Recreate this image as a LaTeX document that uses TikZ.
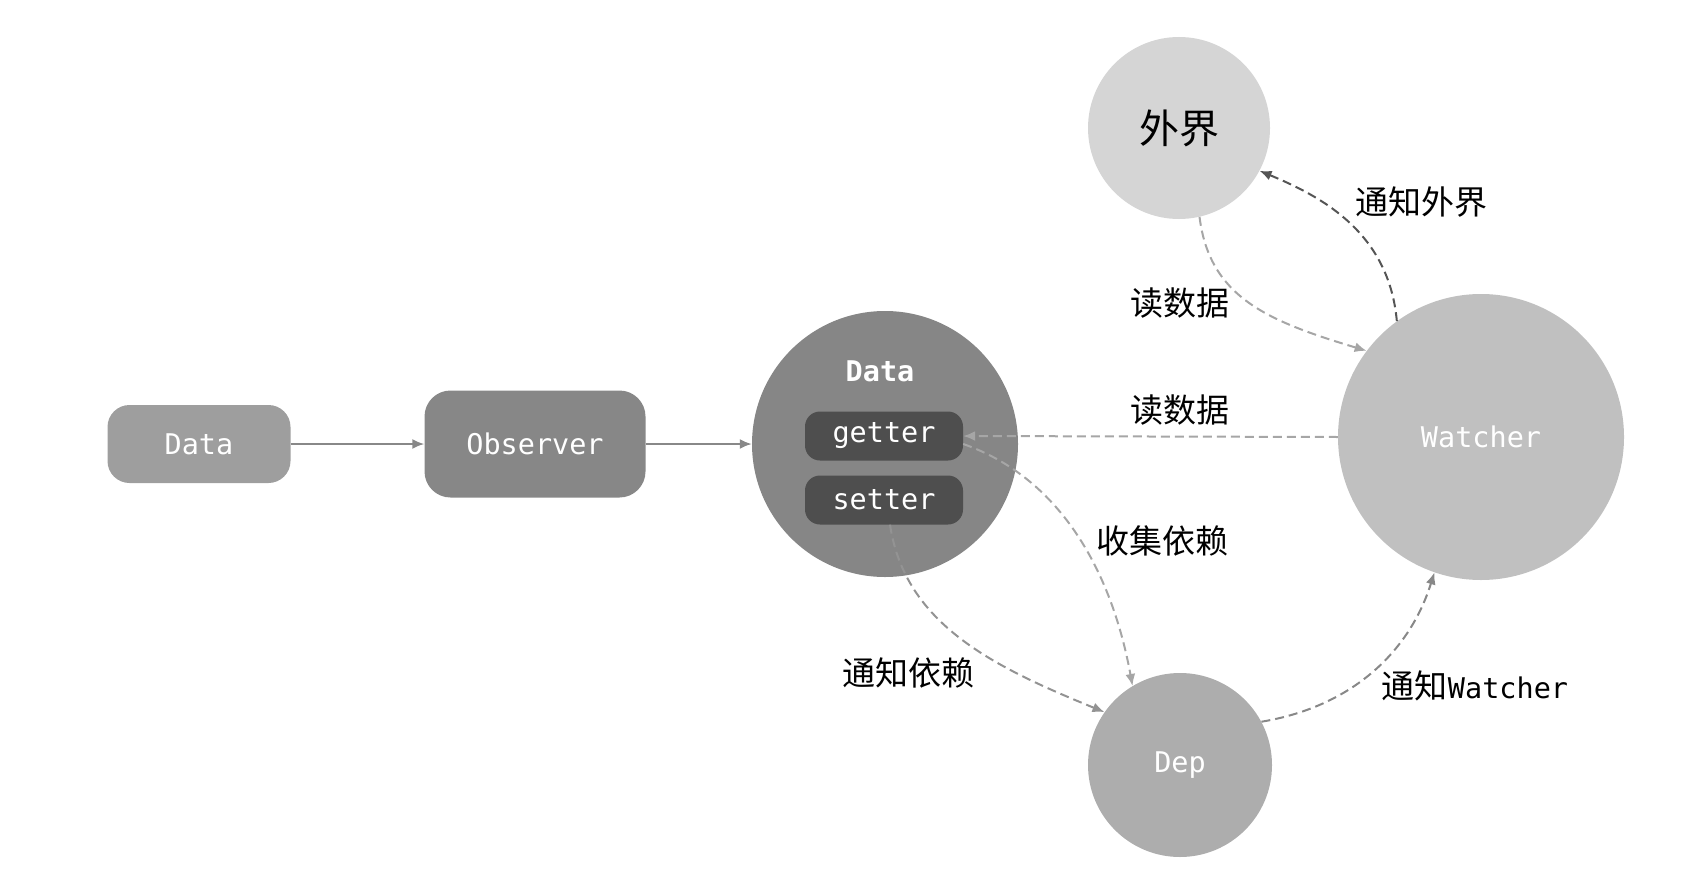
\documentclass[tikz,border=0pt]{standalone}
\usepackage{fontspec}
\setmonofont{DejaVu Sans Mono}
\newfontfamily\cjk{Noto Sans CJK SC}
\usetikzlibrary{arrows.meta}

\definecolor{datagray}{HTML}{9E9E9E}
\definecolor{obsgray}{HTML}{878787}
\definecolor{circgray}{HTML}{868686}
\definecolor{accgray}{HTML}{4E4E4E}
\definecolor{outgray}{HTML}{D5D5D5}
\definecolor{watchgray}{HTML}{C0C0C0}
\definecolor{depgray}{HTML}{ADADAD}
\definecolor{lightline}{HTML}{A6A6A6}
\definecolor{midline}{HTML}{888888}
\definecolor{setline}{HTML}{939393}
\definecolor{darkline}{HTML}{555555}

\newcommand{\monotext}{\ttfamily\fontsize{28.5}{31}\selectfont}
\newcommand{\cjktext}{\cjk\fontsize{33}{37}\selectfont}

\begin{document}
\begin{tikzpicture}[x=1pt, y=-1pt, >={Latex[length=12pt,width=10pt]}]

\tikzstyle{rbox}=[rectangle, inner sep=0pt, text=white, font=\monotext]
\tikzstyle{ball}=[circle, inner sep=0pt]
\tikzstyle{flow}=[->, draw=midline, line width=2pt]
\tikzstyle{link}=[->, dashed, line width=2pt, dash pattern=on 9pt off 5pt]
\tikzstyle{lbl}=[font=\cjktext, text=black]

\useasboundingbox (0,0) rectangle (1688,872);

% left part
\node[rbox, fill=datagray, rounded corners=22pt, minimum width=183pt, minimum height=78pt] (data) at (199,444) {Data};
\node[rbox, fill=obsgray, rounded corners=26pt, minimum width=221pt, minimum height=107pt] (observer) at (535,444) {Observer};
\node[ball, fill=circgray, minimum size=266pt] (datac) at (885,444) {};
\node[text=white, font=\monotext\bfseries] (datat) at (880,371) {Data};
\node[rbox, fill=accgray, rounded corners=15pt, minimum width=158pt, minimum height=49pt] (getter) at (884,436) {getter};
\node[rbox, fill=accgray, rounded corners=15pt, minimum width=158pt, minimum height=49pt] (setter) at (884,500) {setter};

% right part
\node[ball, fill=outgray, minimum size=182pt, font=\cjk\fontsize{40}{44}\selectfont] (waijie) at (1179,128) {外界};
\node[ball, fill=watchgray, minimum size=286pt, text=white, font=\monotext] (watcher) at (1481,437) {Watcher};
\node[ball, fill=depgray, minimum size=184pt, text=white, font=\monotext] (dep) at (1180,765) {Dep};

\draw[flow] (data) -- (observer);
\draw[flow] (observer) -- (datac);

\draw[link, draw=lightline] (watcher.west) -- (getter.east);
\draw[link, draw=lightline] ([yshift=-8pt]getter.east) .. controls +(100,35) and +(-20,-110) .. (dep.121);
\draw[link, draw=setline] ([xshift=6pt]setter.south) .. controls +(15,100) and +(-110,-45) .. (dep.145);
\draw[link, draw=midline] (dep.28) .. controls +(90,-15) and +(-25,80) .. (watcher.-109);
\draw[link, draw=lightline] (waijie.-77) .. controls +(10,80) and +(-100,-30) .. (watcher.143);
\draw[link, draw=darkline] (watcher.126) .. controls +(-8,-90) and +(60,25) .. (waijie.-28);

% labels
\node[lbl] (l1) at (1421,202) {通知外界};
\node[lbl] (l2) at (1180,303) {读数据};
\node[lbl] (l3) at (1180,410) {读数据};
\node[lbl] (l4) at (1162,541) {收集依赖};
\node[lbl] (l5) at (908,673) {通知依赖};
\node[lbl] (l6) at (1475,686) {通知{\monotext Watcher}};

\end{tikzpicture}
\end{document}
